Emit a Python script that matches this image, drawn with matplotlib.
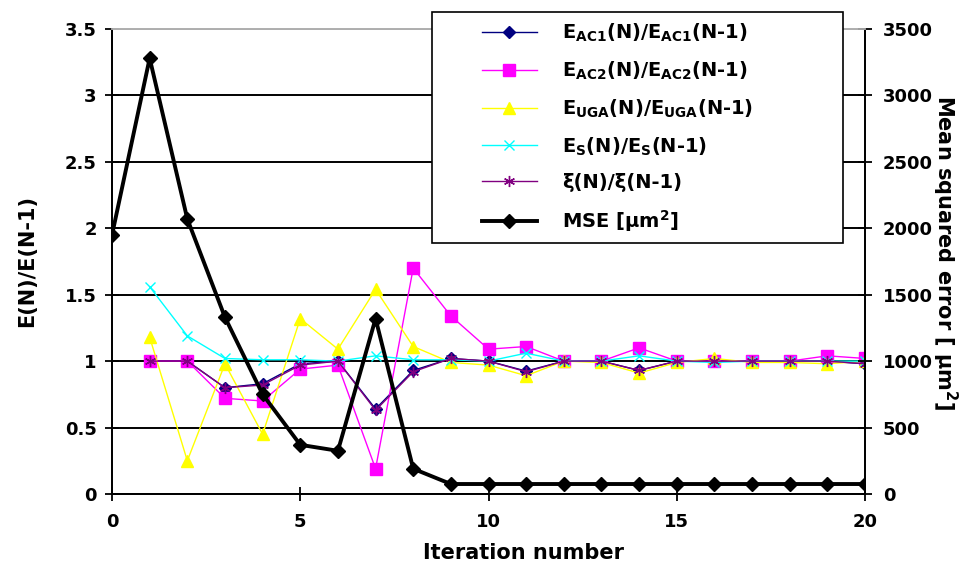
import matplotlib
matplotlib.use("Agg")
import matplotlib.pyplot as plt
from matplotlib.patches import Rectangle

plt.rcParams['font.family'] = ['DejaVu Sans']
plt.rcParams['font.weight'] = 'bold'
plt.rcParams['mathtext.fontset'] = 'dejavusans'

# iteration numbers
it_ratio = list(range(1, 21))
it_mse = list(range(0, 21))

# ratio series E(N)/E(N-1)
e_ac1 = [1.0, 1.0, 0.80, 0.83, 0.98, 1.0, 0.64, 0.93, 1.02, 1.0,
         0.925, 1.0, 1.0, 0.93, 1.0, 1.0, 1.0, 1.0, 1.0, 0.98]
e_ac2 = [1.0, 1.0, 0.72, 0.70, 0.94, 0.97, 0.19, 1.70, 1.34, 1.09,
         1.11, 1.0, 1.0, 1.10, 1.0, 1.0, 1.0, 1.0, 1.04, 1.02]
e_uga = [1.18, 0.25, 0.98, 0.45, 1.32, 1.09, 1.54, 1.11, 0.99, 0.97,
         0.89, 1.0, 0.99, 0.91, 0.99, 1.02, 0.99, 0.99, 0.98, 1.0]
e_s = [1.56, 1.19, 1.02, 1.01, 1.01, 1.0, 1.04, 1.01, 1.01, 1.0,
       1.06, 1.0, 1.0, 1.04, 1.0, 0.99, 1.0, 1.0, 1.0, 1.0]
xi = [1.0, 1.0, 0.80, 0.82, 0.97, 1.0, 0.63, 0.92, 1.02, 1.0,
      0.92, 1.0, 1.0, 0.93, 1.0, 1.0, 1.0, 1.0, 1.0, 0.98]

# mean squared error [um^2]
mse = [1950, 3280, 2070, 1330, 750, 370, 325, 1320, 190, 75,
       75, 75, 75, 75, 75, 75, 75, 75, 75, 75, 75]

fig = plt.figure(figsize=(9.69, 5.72), dpi=100)
ax = fig.add_axes([0.1156, 0.1364, 0.7771, 0.8129])
ax2 = ax.twinx()

l1, = ax.plot(it_ratio, e_ac1, color='#000080', lw=1, marker='D', ms=6,
              label=r'E$_{\mathrm{AC1}}$(N)/E$_{\mathrm{AC1}}$(N-1)')
l2, = ax.plot(it_ratio, e_ac2, color='#FF00FF', lw=1, marker='s', ms=8,
              label=r'E$_{\mathrm{AC2}}$(N)/E$_{\mathrm{AC2}}$(N-1)')
l3, = ax.plot(it_ratio, e_uga, color='#FFFF00', lw=1, marker='^', ms=9,
              label=r'E$_{\mathrm{UGA}}$(N)/E$_{\mathrm{UGA}}$(N-1)')
l4, = ax.plot(it_ratio, e_s, color='#00FFFF', lw=1, marker='x', ms=7, mew=1,
              label=r'E$_{\mathrm{S}}$(N)/E$_{\mathrm{S}}$(N-1)')
l5, = ax.plot(it_ratio, xi, color='#800080', lw=1, marker=(6, 2, 0), ms=8,
              mew=1, label='ξ(N)/ξ(N-1)')
l6, = ax2.plot(it_mse, mse, color='black', lw=2.8, marker='D', ms=7,
               label=r'MSE [µm$^{\mathrm{2}}$]')

ax.set_xlim(0, 20)
ax.set_ylim(0, 3.5)
ax.set_xticks([0, 5, 10, 15, 20])
ax.set_yticks([0, 0.5, 1, 1.5, 2, 2.5, 3, 3.5])
ax.set_yticklabels(['0', '0.5', '1', '1.5', '2', '2.5', '3', '3.5'])
ax.grid(axis='y', color='black', lw=1.4)
ax.set_axisbelow(True)
ax2.set_ylim(0, 3500)
ax2.set_yticks(range(0, 3501, 500))

for a in (ax, ax2):
    a.tick_params(direction='inout', length=10, width=1.3, labelsize=13)
    for s in a.spines.values():
        s.set_linewidth(1.3)
    a.spines['top'].set_color('#b0b0b0')
ax.tick_params(axis='x', pad=9)
ax.tick_params(axis='y', pad=6)
ax2.tick_params(axis='y', pad=8)

ax.set_xlabel('Iteration number', fontsize=15, fontweight='bold',
              va='center', ha='center')
ax.xaxis.set_label_coords(0.546, -0.127)
ax.set_ylabel('E(N)/E(N-1)', fontsize=15, fontweight='bold',
              va='center', ha='center')
ax.yaxis.set_label_coords(-0.113, 0.5)
ax2.set_ylabel(r'Mean squared error [ µm$^{\mathrm{2}}$]', fontsize=15,
               fontweight='bold', rotation=270, va='center', ha='center')
ax2.yaxis.set_label_coords(1.106, 0.518)

# legend box drawn on its own, legend entries placed inside it
fig.patches.append(Rectangle((0.4458, 0.5752), 0.4241, 0.4038,
                             transform=fig.transFigure, facecolor='white',
                             edgecolor='black', lw=1.2, zorder=3))
leg = fig.legend(handles=[l1, l2, l3, l4, l5, l6], loc='upper left',
                 bbox_to_anchor=(0.497, 0.962), fontsize=14,
                 handlelength=2.85, borderpad=0, labelspacing=0.8,
                 handletextpad=1.3, frameon=False, borderaxespad=0)
leg.set_zorder(4)

fig.savefig('out.png', dpi=100)
